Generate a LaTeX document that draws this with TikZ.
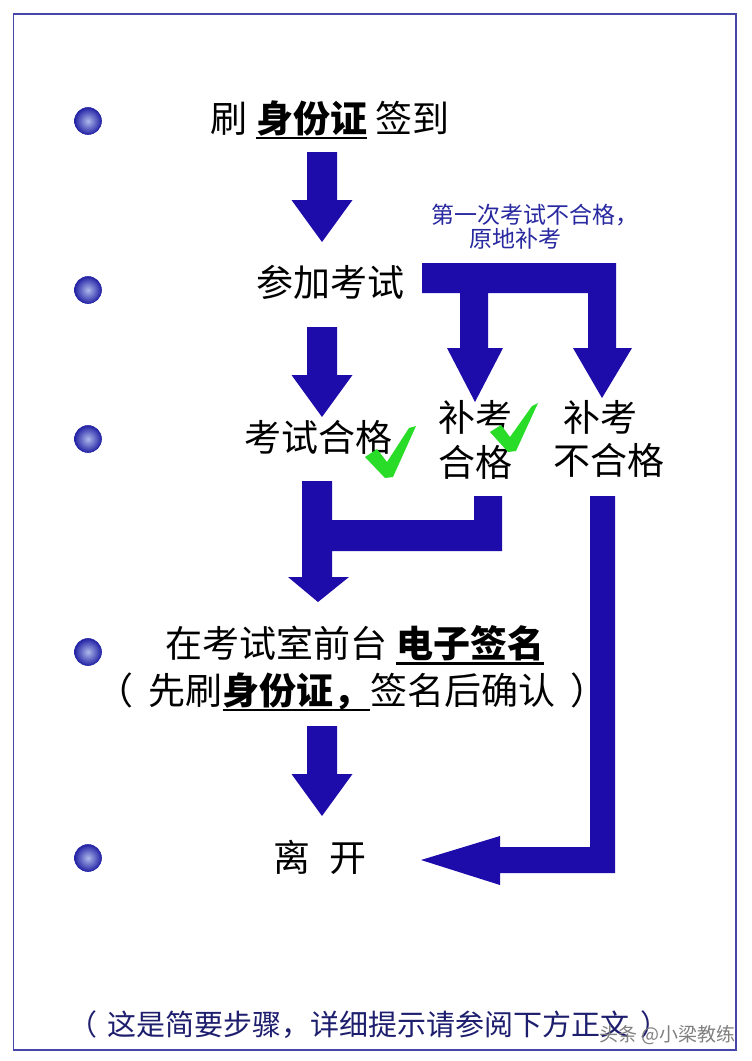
\documentclass[tikz,border=0pt]{standalone}
\usepackage{fontspec}
\newfontfamily\cjk{Noto Sans CJK SC}
\definecolor{arrowblue}{RGB}{30,12,170}
\definecolor{frameblue}{RGB}{70,70,170}
\definecolor{noteblue}{RGB}{40,40,160}
\definecolor{navy}{RGB}{30,30,110}
\definecolor{checkgreen}{RGB}{40,220,40}
\definecolor{ballin}{RGB}{175,185,235}
\definecolor{ballout}{RGB}{35,35,165}
\newcommand\myul[1]{\setbox0\hbox{#1}\rlap{\rule[-7pt]{\wd0}{2.5pt}}\box0}
\tikzset{
  blk/.style={fill=arrowblue, draw=none},
  txt/.style={font=\cjk\fontsize{37}{44}\selectfont, inner sep=0pt, text=black},
  notetxt/.style={font=\cjk\fontsize{23}{28}\selectfont, inner sep=0pt, text=noteblue},
  foot/.style={font=\cjk\fontsize{29}{34}\selectfont, inner sep=0pt, text=navy},
  wmark/.style={font=\cjk\fontsize{19}{23}\selectfont, inner sep=0pt, text=gray},
  bullet/.style={circle, minimum size=27pt, inner sep=0pt, inner color=ballin, outer color=ballout, draw=ballout, line width=0.6pt},
  check/.style={fill=checkgreen, draw=none},
  dnarrow/.pic={\fill[blk] (-15,0) -- (15,0) -- (15,48) -- (30.5,48) -- (0,90) -- (-30.5,48) -- (-15,48) -- cycle;}
}
\begin{document}
\begin{tikzpicture}[x=1pt,y=-1pt]
\useasboundingbox (0,0) rectangle (752,1061);
\fill[white] (0,0) rectangle (752,1061);
\draw[frameblue, line width=1.2pt] (13.5,14) rectangle (736,1050);

% bullets
\node[bullet] (b1) at (88,121) {};
\node[bullet] (b2) at (88,290) {};
\node[bullet] (b3) at (88,439) {};
\node[bullet] (b4) at (88,652) {};
\node[bullet] (b5) at (88,858) {};

% arrows
\pic at (322,152) {dnarrow};
\pic at (322,327) {dnarrow};
\pic at (322,726) {dnarrow};

% fork from 参加考试
\fill[blk] (422,263) -- (616,263) -- (616,348) -- (632,348) -- (602,398) -- (573,348) -- (588,348)
  -- (588,293) -- (488,293) -- (488,348) -- (503,348) -- (475,402) -- (447,348) -- (460,348)
  -- (460,293) -- (422,293) -- cycle;

% merge to 电子签名
\fill[blk] (302,481) -- (332,481) -- (332,520) -- (474,520) -- (474,496) -- (502,496) -- (502,551)
  -- (332,551) -- (332,577) -- (349,577) -- (318,602) -- (288,577) -- (302,577) -- cycle;

% long L to 离开
\fill[blk] (590,496) -- (615,496) -- (615,873) -- (500,873) -- (500,885) -- (421,860) -- (500,836)
  -- (500,847) -- (590,847) -- cycle;

% texts
\node[txt] (t1) at (330,120) {刷 {\bfseries\myul{身份证}} 签到};
\node[txt] (t2) at (330,282) {参加考试};
\node[notetxt, anchor=west] (n1) at (431,215) {第一次考试不合格，};
\node[notetxt, anchor=west] (n2) at (469,239) {原地补考};
\node[txt] (t3) at (318,437) {考试合格};
\node[txt] (t4a) at (475,417) {补考};
\node[txt] (t4b) at (475,462) {合格};
\node[txt] (t5a) at (600,417) {补考};
\node[txt] (t5b) at (609,460) {不合格};
\node[txt] (t6) at (355,645) {在考试室前台 {\bfseries\myul{电子签名}}};
\node[txt] (t7) at (352,692) {（\hspace{15pt}先刷{\bfseries\myul{身份证，}}签名后确认\hspace{15pt}）};
\node[txt] (t8) at (320,857) {离\hspace{20pt}开};
\node[foot] (f) at (369,1025) {（\hspace{11pt}这是简要步骤，详细提示请参阅下方正文\hspace{11pt}）};

% checkmarks
\fill[check] (365,457) -- (377,449) -- (387,462) -- (409,428) -- (416,426) -- (393,477) -- (385,478) -- cycle;
\fill[check] (490,432) -- (501,425) -- (510,437) -- (532,406) -- (538,403) -- (516,451) -- (508,452) -- cycle;

% watermark
\node[wmark, anchor=east] (w) at (736,1035) {头条 @小梁教练};
\end{tikzpicture}
\end{document}
